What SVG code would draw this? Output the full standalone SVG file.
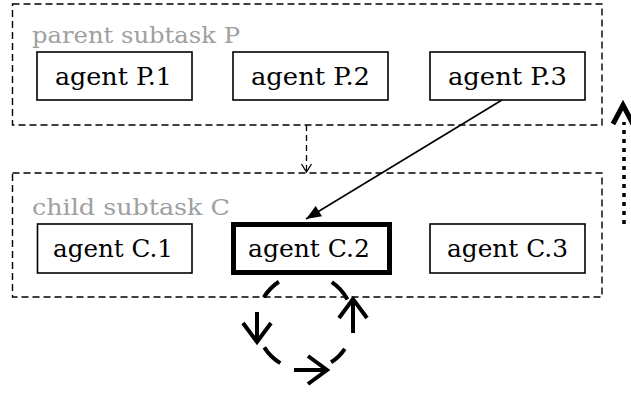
<svg xmlns="http://www.w3.org/2000/svg" width="631" height="393" viewBox="0 0 631 393">
<style>
.sub{fill:none;stroke:#000;stroke-width:1.4;stroke-dasharray:7 4}
.box{fill:#fff;stroke:#000;stroke-width:1.6}
.bold{fill:#fff;stroke:#000;stroke-width:5}
.lbl{font-family:"DejaVu Serif","Liberation Serif",serif;font-size:25px;fill:#000}
.glbl{font-family:"DejaVu Serif","Liberation Serif",serif;font-size:23px;fill:#a0a0a0}
.loop{fill:none;stroke:#000;stroke-width:4}
</style>
<defs>
<marker id="vsmall" markerUnits="userSpaceOnUse" viewBox="-10 -7 12 14" refX="0" refY="0" markerWidth="12" markerHeight="14" orient="auto" overflow="visible">
<path d="M-8,-5 L0,0 L-8,5" fill="none" stroke="#000" stroke-width="1.3"/>
</marker>
<marker id="tri" markerUnits="userSpaceOnUse" viewBox="-16 -7 17 14" refX="0" refY="0" markerWidth="17" markerHeight="14" orient="auto" overflow="visible">
<path d="M-15,-6 L0,0 L-15,6 Z" fill="#000"/>
</marker>
<marker id="chev" markerUnits="userSpaceOnUse" viewBox="-22 -16 24 32" refX="0" refY="0" markerWidth="24" markerHeight="32" orient="auto" overflow="visible">
<path d="M-19,-14 L0,0 L-19,14" fill="none" stroke="#000" stroke-width="4"/>
</marker>
</defs>

<g id="subtask-P">
<rect class="sub" x="12.5" y="4" width="589.5" height="121"/>
<text class="glbl" x="32" y="43" textLength="208" lengthAdjust="spacingAndGlyphs">parent subtask P</text>
</g>
<g id="subtask-C">
<rect class="sub" x="12.5" y="173" width="589.5" height="124"/>
<text class="glbl" x="32" y="215" textLength="198" lengthAdjust="spacingAndGlyphs">child subtask C</text>
</g>

<g id="connectors">
<line x1="306.5" y1="125" x2="306.5" y2="172" fill="none" stroke="#000" stroke-width="1.3" stroke-dasharray="6 4" marker-end="url(#vsmall)"/>
<line x1="502" y1="100" x2="306" y2="219" stroke="#000" stroke-width="1.6" marker-end="url(#tri)"/>
<g id="loop">
<path class="loop" d="M263.9,297.3 A48,48 0 0 1 278.9,281.7"/>
<path class="loop" d="M331.8,282.2 A48,48 0 0 1 347.4,299.5"/>
<path class="loop" d="M280.3,363.1 A48,48 0 0 1 264.3,347.4"/>
<path class="loop" d="M344.8,348.8 A48,48 0 0 1 331.1,362.3"/>
<line class="loop" x1="257" y1="312" x2="257" y2="342" marker-end="url(#chev)"/>
<line class="loop" x1="294" y1="370" x2="327" y2="370" marker-end="url(#chev)"/>
<line class="loop" x1="353" y1="333" x2="353" y2="299" marker-end="url(#chev)"/>
</g>
<g id="upward">
<line x1="624" y1="224" x2="624" y2="122" stroke="#000" stroke-width="3.5" stroke-dasharray="4 5"/>
<path d="M613,124 L623,105 L633,124" fill="none" stroke="#000" stroke-width="5"/>
</g>
</g>

<g id="agent-P1"><rect class="box" x="37" y="52" width="155" height="48"/><text class="lbl" x="55" y="85" textLength="117" lengthAdjust="spacingAndGlyphs">agent P.1</text></g>
<g id="agent-P2"><rect class="box" x="233" y="52" width="155" height="48"/><text class="lbl" x="251" y="85" textLength="119" lengthAdjust="spacingAndGlyphs">agent P.2</text></g>
<g id="agent-P3"><rect class="box" x="430" y="52" width="155" height="48"/><text class="lbl" x="448" y="85" textLength="119" lengthAdjust="spacingAndGlyphs">agent P.3</text></g>
<g id="agent-C1"><rect class="box" x="37.5" y="224" width="154.5" height="49"/><text class="lbl" x="53" y="257" textLength="120" lengthAdjust="spacingAndGlyphs">agent C.1</text></g>
<g id="agent-C2"><rect class="bold" x="233.5" y="224.5" width="156" height="48"/><text class="lbl" x="248" y="257" textLength="122" lengthAdjust="spacingAndGlyphs">agent C.2</text></g>
<g id="agent-C3"><rect class="box" x="430" y="224" width="155" height="49"/><text class="lbl" x="447" y="257" textLength="121" lengthAdjust="spacingAndGlyphs">agent C.3</text></g>
</svg>
